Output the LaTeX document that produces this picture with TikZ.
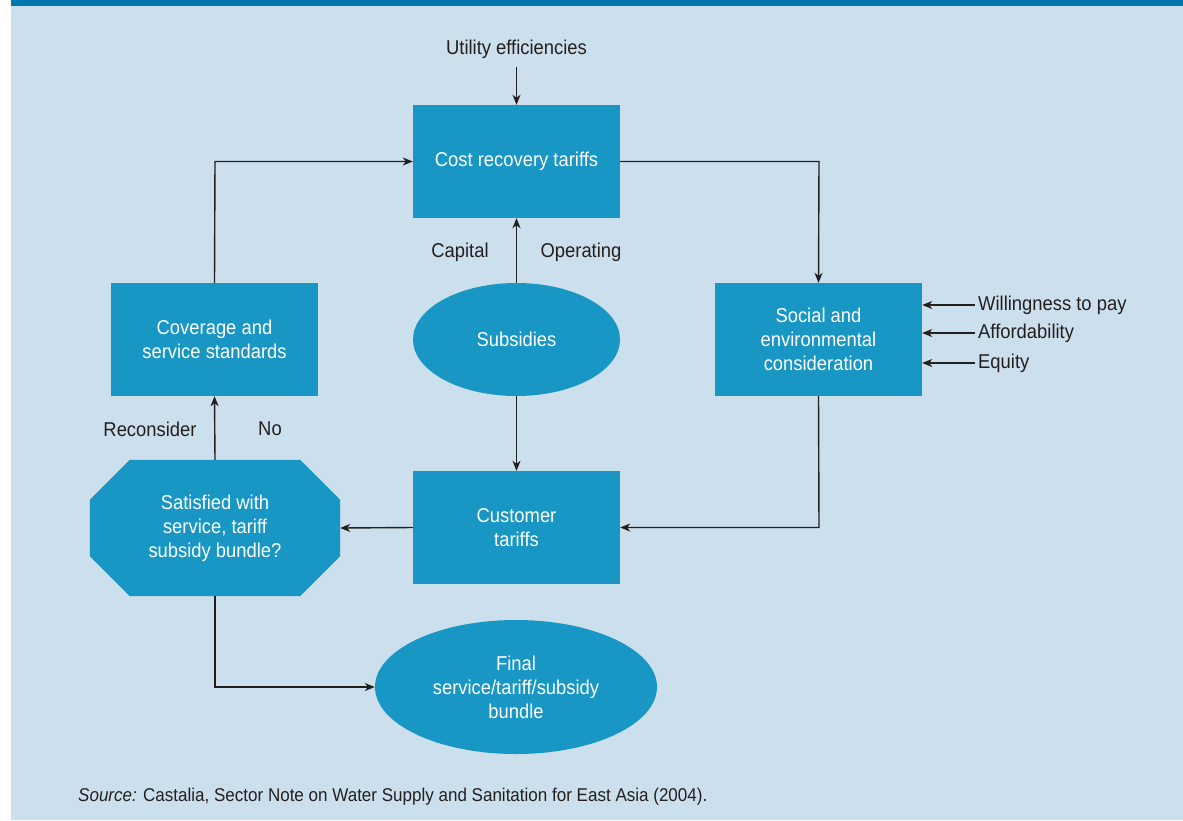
\documentclass[tikz,border=0pt]{standalone}
\usepackage{fontspec}
\setmainfont{Liberation Sans}[FakeStretch=0.92]
\usetikzlibrary{arrows.meta,shapes.geometric}
\definecolor{bgblue}{RGB}{204,223,237}
\definecolor{topblue}{RGB}{0,119,174}
\definecolor{boxblue}{RGB}{24,150,196}
\definecolor{txt}{RGB}{35,31,32}
\tikzset{
  box/.style={rectangle, fill=boxblue, text=white, minimum width=207pt, minimum height=113pt, align=center, font=\fontsize{20}{24}\selectfont, inner sep=0pt},
  oval/.style={ellipse, fill=boxblue, text=white, align=center, font=\fontsize{20}{24}\selectfont, inner sep=0pt},
  lbl/.style={text=txt, font=\fontsize{20}{24}\selectfont, inner sep=0pt},
  conn/.style={draw=txt, line width=1.4pt, -{Stealth[length=10pt,width=8pt,inset=3pt]}}
}
\begin{document}
\begin{tikzpicture}[x=1pt,y=-1pt]
\useasboundingbox (0,0) rectangle (1183,820);
\fill[white] (0,0) rectangle (11,820);
\fill[bgblue] (11,0) rectangle (1183,820);
\fill[topblue] (11,0) rectangle (1183,6);

% nodes
\node[box] (cost) at (516.5,161.5) {Cost recovery tariffs};
\node[oval, minimum width=207pt, minimum height=113pt] (sub) at (516.5,339.5) {Subsidies};
\node[box] (cust) at (516.5,527.5) {Customer\\tariffs};
\node[box] (soc) at (818.5,339.5) {Social and\\environmental\\consideration};
\node[box] (cov) at (214.5,339.5) {Coverage and\\service standards};
\node[oval, minimum width=282pt, minimum height=134pt] (fin) at (516,687) {Final\\service/tariff/subsidy\\bundle};

% octagon
\node[rectangle, minimum width=250pt, minimum height=136pt, inner sep=0pt] (oct) at (215,528) {};
\fill[boxblue] ([xshift=40pt]oct.north west) -- ([xshift=-40pt]oct.north east) -- ([yshift=-40pt]oct.north east) -- ([yshift=40pt]oct.south east) -- ([xshift=-40pt]oct.south east) -- ([xshift=40pt]oct.south west) -- ([yshift=40pt]oct.south west) -- ([yshift=-40pt]oct.north west) -- cycle;
\node[text=white, align=center, font=\fontsize{20}{24}\selectfont, inner sep=0pt] (octtext) at (oct.center) {Satisfied with\\service, tariff\\subsidy bundle?};

% labels
\node[lbl] (util) at (516.5,49) {Utility efficiencies};
\node[lbl] (cap) at (460,252) {Capital};
\node[lbl] (op) at (581,252) {Operating};
\node[lbl] (recon) at (150,429) {Reconsider};
\node[lbl] (no) at (270,429) {No};
\node[lbl, anchor=west] (wtp) at (978,305) {Willingness to pay};
\node[lbl, anchor=west] (aff) at (978,333) {Affordability};
\node[lbl, anchor=west] (eq) at (978,363) {Equity};
\node[text=txt, font=\fontsize{18.5}{22}\selectfont, inner sep=0pt, anchor=west] (src) at (78,797) {\textit{Source:} Castalia, Sector Note on Water Supply and Sanitation for East Asia (2004).};

\coordinate (utilend) at (516.5,67);
\coordinate (c1) at (819,161.5);
\coordinate (c2) at (819,527.5);
\coordinate (c3) at (215,161.5);
\coordinate (c4) at (215,687);
\coordinate (w1) at (975,305);
\coordinate (a1) at (975,333);
\coordinate (e1) at (975,363);

% connectors
\draw[conn] (utilend) -- (cost.north);
\draw[conn] (sub.north) -- (cost.south);
\draw[conn] (sub.south) -- (cust.north);
\draw[conn] (cost.east) -- (c1) -- (soc.north);
\draw[conn] (soc.south) -- (c2) -- (cust.east);
\draw[conn] (cust.west) -- (oct.east);
\draw[conn] (oct.north) -- (cov.south);
\draw[conn] (cov.north) -- (c3) -- (cost.west);
\draw[conn] (oct.south) -- (c4) -- (fin.west);
\draw[conn] (w1) -- (w1 -| soc.east);
\draw[conn] (a1) -- (a1 -| soc.east);
\draw[conn] (e1) -- (e1 -| soc.east);
\end{tikzpicture}
\end{document}
